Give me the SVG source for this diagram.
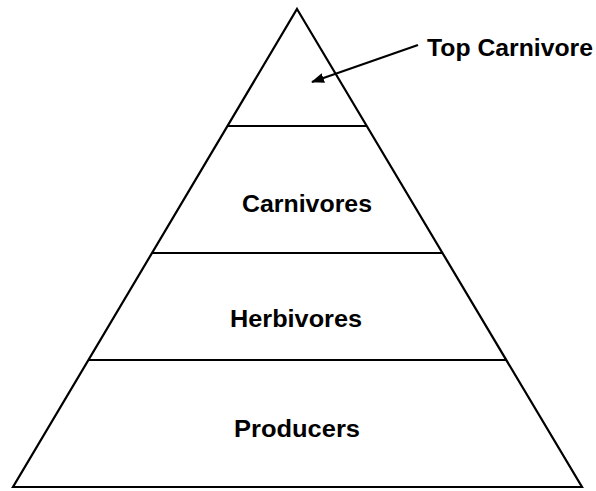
<svg xmlns="http://www.w3.org/2000/svg" width="596" height="491" viewBox="0 0 596 491">
<style>
.ln{stroke:#000;stroke-width:2.2;fill:none}
.lbl{font-family:"Liberation Sans",Arial,sans-serif;font-weight:bold;font-size:23px;fill:#000}
</style>
<defs>
<marker id="ah" markerWidth="13" markerHeight="10" refX="12" refY="5" orient="auto" markerUnits="userSpaceOnUse" viewBox="0 0 13 10">
<path d="M0,0 L13,5 L0,10 Z" fill="#000"/>
</marker>
</defs>
<rect width="596" height="491" fill="#fff"/>
<g id="pyramid">
<polygon class="ln" points="297,9 582,487 13,487" stroke-linejoin="miter"/>
</g>
<g id="top">
<line class="ln" x1="228" y1="126" x2="366" y2="126"/>
</g>
<g id="carnivores">
<line class="ln" x1="152" y1="253" x2="442" y2="253"/>
<text class="lbl" x="242" y="212" textLength="130" lengthAdjust="spacingAndGlyphs">Carnivores</text>
</g>
<g id="herbivores">
<line class="ln" x1="88" y1="360" x2="506" y2="360"/>
<text class="lbl" x="230" y="327" textLength="132" lengthAdjust="spacingAndGlyphs">Herbivores</text>
</g>
<g id="producers">
<text class="lbl" x="234" y="437" textLength="126" lengthAdjust="spacingAndGlyphs">Producers</text>
</g>
<g id="topcarnivore">
<text class="lbl" x="427" y="56" textLength="166" lengthAdjust="spacingAndGlyphs">Top Carnivore</text>
</g>
<g id="connectors">
<line class="ln" x1="418" y1="45" x2="312" y2="82" stroke-width="2.8" marker-end="url(#ah)"/>
</g>
</svg>
